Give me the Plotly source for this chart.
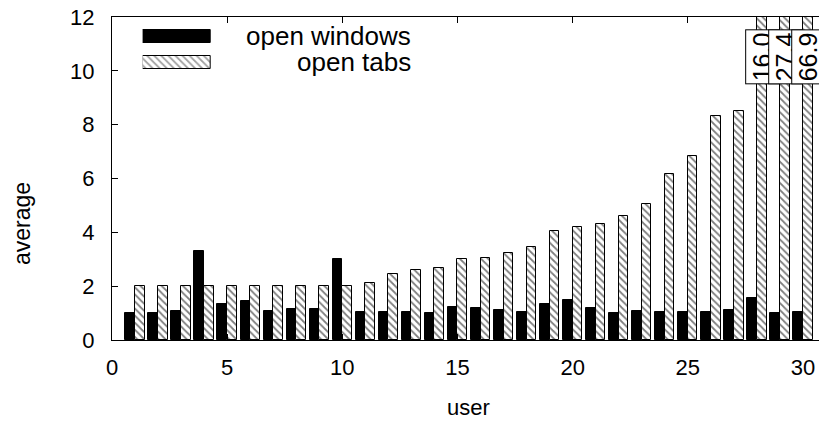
import plotly.graph_objects as go

# average per user
users = list(range(1, 31))
open_windows = [1.0, 1.0, 1.07, 3.3, 1.33, 1.44, 1.07, 1.15, 1.15, 3.0,
                1.04, 1.04, 1.04, 1.0, 1.22, 1.19, 1.11, 1.04, 1.35, 1.49,
                1.19, 1.01, 1.07, 1.04, 1.04, 1.04, 1.11, 1.57, 1.01, 1.04]
open_tabs = [2.0, 2.0, 2.0, 2.0, 2.0, 2.0, 2.0, 2.0, 2.0, 2.02,
             2.12, 2.47, 2.59, 2.67, 3.0, 3.06, 3.25, 3.47, 4.06, 4.21,
             4.31, 4.62, 5.04, 6.17, 6.84, 8.32, 8.52, 16.0, 27.4, 66.9]
x_ticks = [0, 5, 10, 15, 20, 25, 30]
y_ticks = [0, 2, 4, 6, 8, 10, 12]
y_max = 12
bar_w = 0.42
FONT = "Liberation Sans, Arial, sans-serif"
HATCH = dict(shape='\\', fgcolor='black', bgcolor='white', size=5, solidity=0.35)

fig = go.Figure()

fig.add_trace(go.Bar(
    x=users, y=open_windows, width=bar_w, offset=-bar_w,
    marker=dict(color='black', line=dict(color='black', width=1)),
    name='open windows', showlegend=False
))
fig.add_trace(go.Bar(
    x=users, y=open_tabs, width=bar_w, offset=0,
    marker=dict(color='white', line=dict(color='black', width=1), pattern=HATCH),
    name='open tabs', showlegend=False
))

# legend samples drawn in a small inset axis
fig.add_trace(go.Bar(
    x=[1, 1], y=[1, 0], orientation='h', width=0.5,
    marker=dict(color=['black', 'white'], line=dict(color='black', width=1),
                pattern=dict(shape=['', '\\'], fgcolor='black', bgcolor=['black', 'white'],
                             size=5, solidity=0.35)),
    xaxis='x2', yaxis='y2', showlegend=False, hoverinfo='skip'
))

annotations = [
    dict(text='open windows', x=0.4216, y=0.941, xref='paper', yref='paper',
         xanchor='right', yanchor='middle', showarrow=False,
         font=dict(size=26, color='black', family=FONT)),
    dict(text='open tabs', x=0.4216, y=0.861, xref='paper', yref='paper',
         xanchor='right', yanchor='middle', showarrow=False,
         font=dict(size=26, color='black', family=FONT)),
    # axis titles
    dict(text='average', x=-0.126, y=0.359, xref='paper', yref='paper',
         xanchor='center', yanchor='middle', textangle=-90, showarrow=False,
         font=dict(size=23, color='black', family=FONT)),
    dict(text='user', x=0.4986, y=-0.2105, xref='paper', yref='paper',
         xanchor='center', yanchor='middle', showarrow=False,
         font=dict(size=22, color='black', family=FONT)),
]

# value labels for bars that go off the top
for u, v in zip(users, open_tabs):
    if v > y_max:
        annotations.append(dict(
            text=f'{v:.1f}', x=u + bar_w / 2, y=10.53, xref='x', yref='y',
            textangle=-90, showarrow=False, bgcolor='white',
            bordercolor='black', borderwidth=1, borderpad=2,
            font=dict(size=25, color='black', family=FONT)
        ))

axis_style = dict(ticks='inside', ticklen=6, tickcolor='black', showline=True,
                  linecolor='black', linewidth=1, mirror='ticks', showgrid=False,
                  zeroline=False, automargin=False, ticklabeloverflow='allow',
                  tickfont=dict(size=22))

# page body has an 8px margin, so the figure is 8px smaller than the window
fig.update_layout(
    width=819, height=414,
    margin=dict(l=104, r=1, t=9, b=82),
    paper_bgcolor='white', plot_bgcolor='white',
    bargap=0, barmode='overlay',
    font=dict(family=FONT, size=22, color='black'),
    annotations=annotations,
    xaxis=dict(range=[0, 31], tickvals=x_ticks, ticklabelstandoff=8, **axis_style),
    yaxis=dict(range=[0, y_max], tickvals=y_ticks, ticklabelstandoff=12, **axis_style),
    xaxis2=dict(domain=[0.043, 0.1387], range=[0, 1], anchor='y2',
                visible=False, fixedrange=True),
    yaxis2=dict(domain=[0.8204, 0.9814], range=[-0.5, 1.5], anchor='x2',
                visible=False, fixedrange=True),
)

fig.write_html("out.html")
